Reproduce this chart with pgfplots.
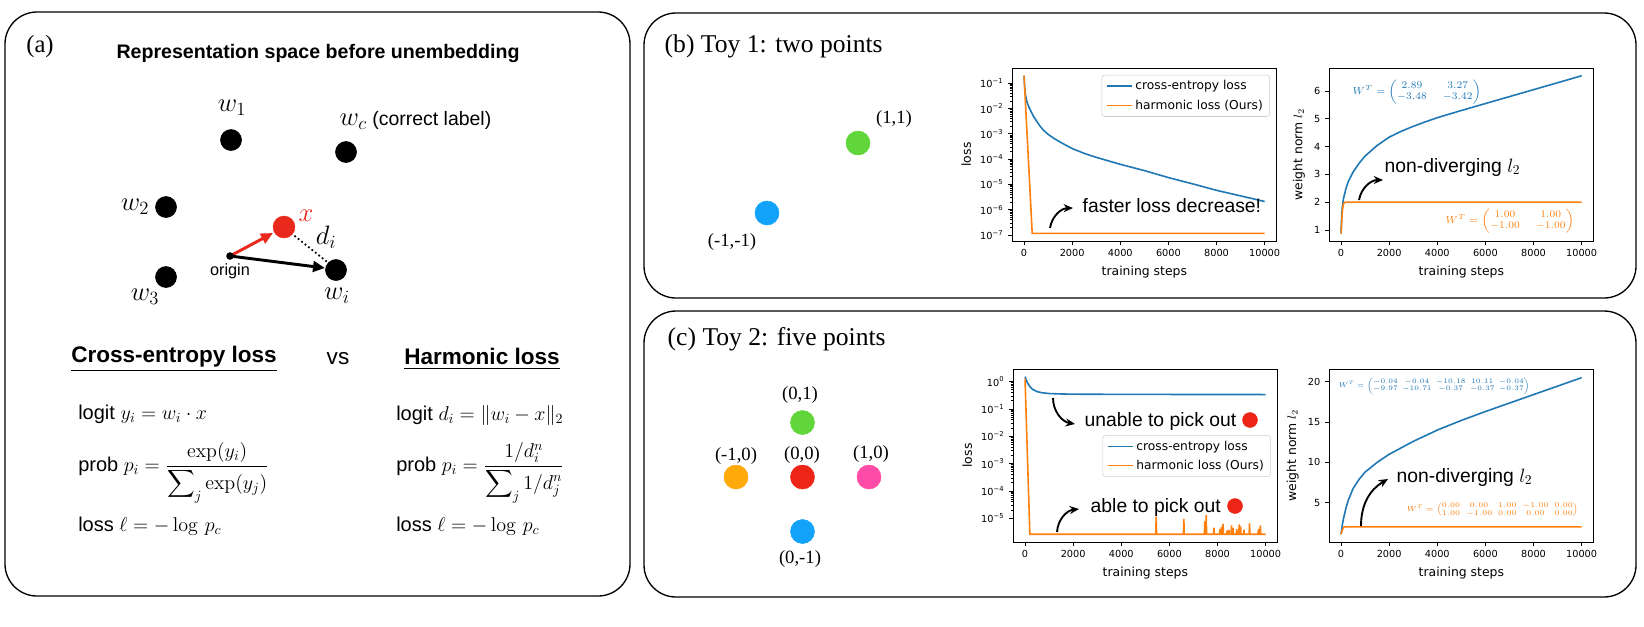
\RequirePackage{fix-cm}
\documentclass[border=0pt]{standalone}
\usepackage{amsmath}
\usepackage{pgfplots}
\pgfplotsset{compat=1.18}
\usepackage[no-math]{fontspec}
\setmainfont{Liberation Sans}
\newfontfamily\tnr{Liberation Serif}
\newfontfamily\dejavu{DejaVu Sans}
\usetikzlibrary{arrows.meta}
\newcommand\fs[1]{\fontsize{#1}{#1}\selectfont}
\definecolor{tabblue}{HTML}{1F77B4}
\definecolor{taborange}{HTML}{FF7F0E}
\definecolor{dgreen}{HTML}{61D63A}
\definecolor{dblue}{HTML}{12A2FA}
\definecolor{dorange}{HTML}{FFA90A}
\definecolor{dred}{HTML}{EC2516}
\definecolor{dpink}{HTML}{FF4CA8}
\definecolor{xred}{HTML}{E8291C}

\pgfplotsset{
  mpl/.style={
    scale only axis, width=198.5pt, height=129.75pt,
    xmin=-500, xmax=10500,
    xtick={0,2000,4000,6000,8000,10000},
    scaled x ticks=false, scaled y ticks=false,
    tick pos=left, tick align=outside,
    major tick length=3pt, minor tick length=1.7pt,
    every tick/.style={black, line width=0.5pt},
    axis line style={line width=0.6pt},
    /pgf/number format/1000 sep={},
    /pgf/number format/assume math mode=true,
    tick label style={font=\dejavu\fs{7.3}},
    label style={font=\dejavu\fs{9.3}},
    xlabel={training steps},
    legend cell align=left,
    legend image code/.code={\draw[##1] (0pt,0pt) -- (19pt,0pt);},
    legend style={font=\dejavu\fs{9.2}, draw=black!20, rounded corners=2pt, fill=white, inner xsep=3pt, inner ysep=2pt, row sep=2pt, anchor=north east},
  },
  bl/.style={tabblue, line width=1.2pt},
  ol/.style={taborange, line width=1.2pt},
}
\tikzset{anno/.style={-{Stealth[length=7pt,width=6pt]}, line width=1.4pt},
  fml/.style={anchor=west, font=\fs{15}, inner sep=0pt}}

\begin{document}
\begin{tikzpicture}[x=0.75pt,y=-0.75pt]
\useasboundingbox (0,0) rectangle (1644,626);
\draw[line width=1pt, rounded corners=24pt] (5,12) rectangle (630,596);
\draw[line width=1pt, rounded corners=24pt] (644,13) rectangle (1636,298);
\draw[line width=1pt, rounded corners=24pt] (644,311) rectangle (1636,597);
\coordinate (LB) at (1012,241);
\coordinate (WB) at (1329,241);
\coordinate (LC) at (1013,542);
\coordinate (WC) at (1329,542);
\coordinate (SB) at (721.5,248);
\coordinate (SC) at (702.75,558.75);

% ---------- (b) loss
\begin{axis}[mpl, at={(LB)}, anchor=south west, ymode=log, ymin=5.75e-8, ymax=0.398,
  ytick={1e-7,1e-6,1e-5,1e-4,1e-3,1e-2,1e-1},
  yticklabels={10\textsuperscript{−7},10\textsuperscript{−6},10\textsuperscript{−5},10\textsuperscript{−4},10\textsuperscript{−3},10\textsuperscript{−2},10\textsuperscript{−1}},
  ylabel={loss},
  legend style={at={(0.974,0.96)}}]
\addplot[bl] coordinates {(0,0.2)(25,0.07)(50,0.04)(100,0.022)(150,0.015)(200,0.0115)(250,0.0092)(300,0.0072)(400,0.0048)(500,0.0034)(650,0.0021)(800,0.0014)(1000,0.00095)(1250,0.00065)(1500,0.00047)(2000,0.00026)(2500,0.000168)(3000,0.000117)(3500,0.000085)(4000,0.000062)(5000,0.000035)(6000,0.0000185)(7000,0.0000105)(8000,0.0000058)(9000,0.0000035)(10000,0.0000021)};
\addlegendentry{cross-entropy loss}
\addplot[ol] coordinates {(0,0.2)(340,1.15e-7)(10000,1.15e-7)};
\addlegendentry{harmonic loss (Ours)}
\end{axis}

% ---------- (b) weight
\begin{axis}[mpl, at={(WB)}, anchor=south west, ymin=0.6, ymax=6.83,
  ytick={1,2,3,4,5,6}, ylabel={weight norm $l_2$}]
\addplot[bl] coordinates {(0,0.87)(20,1.35)(50,1.8)(100,2.12)(200,2.48)(300,2.74)(500,3.08)(750,3.4)(1000,3.66)(1500,4.04)(2000,4.34)(2500,4.55)(3000,4.73)(3500,4.89)(4000,5.04)(5000,5.3)(6000,5.55)(7000,5.8)(8000,6.05)(9000,6.3)(10000,6.55)};
\addplot[ol] coordinates {(0,0.87)(30,1.35)(60,1.72)(100,1.93)(150,1.99)(200,2.0)(10000,2.0)};
\end{axis}

% ---------- (c) loss
\begin{axis}[mpl, at={(LC)}, anchor=south west, ymode=log, ymin=1.35e-6, ymax=2.88,
  ytick={1e-5,1e-4,1e-3,1e-2,1e-1,1},
  yticklabels={10\textsuperscript{−5},10\textsuperscript{−4},10\textsuperscript{−3},10\textsuperscript{−2},10\textsuperscript{−1},10\textsuperscript{0}},
  ylabel={loss},
  legend style={at={(0.974,0.618)}}]
\addplot[bl] coordinates {(0,1.5)(50,1.15)(100,0.9)(200,0.66)(300,0.53)(500,0.43)(700,0.39)(1000,0.365)(1500,0.352)(2000,0.346)(4000,0.34)(7000,0.337)(10000,0.335)};
\addlegendentry{cross-entropy loss}
\addplot[ol] coordinates {(0,1.25)(200,2.6e-6)(5435,2.6e-6)(5450,1.15e-5)(5465,2.6e-6)(6585,2.6e-6)(6600,9.5e-6)(6615,2.6e-6)(7455,2.6e-6)(7470,7.6e-6)(7490,2.6e-6)(7515,2.6e-6)(7530,1.3e-5)(7545,2.6e-6)(7835,2.6e-6)(7850,4.5e-6)(7865,2.6e-6)(8085,2.6e-6)(8100,4.0e-6)(8115,2.6e-6)(8145,2.6e-6)(8160,4.8e-6)(8175,2.6e-6)(8215,2.6e-6)(8230,6.2e-6)(8245,2.6e-6)(8385,2.6e-6)(8400,3.6e-6)(8415,2.6e-6)(8455,2.6e-6)(8470,3.8e-6)(8485,2.6e-6)(8565,2.6e-6)(8580,5.5e-6)(8595,2.6e-6)(8635,2.6e-6)(8650,4.4e-6)(8665,2.6e-6)(8785,2.6e-6)(8800,4.0e-6)(8815,2.6e-6)(8885,2.6e-6)(8900,6.0e-6)(8915,2.6e-6)(8945,2.6e-6)(8960,5.0e-6)(8975,2.6e-6)(9085,2.6e-6)(9100,3.8e-6)(9115,2.6e-6)(9315,2.6e-6)(9330,6.5e-6)(9345,2.6e-6)(9685,2.6e-6)(9700,4.0e-6)(9715,2.6e-6)(9765,2.6e-6)(9780,5.5e-6)(9795,2.6e-6)(10000,2.6e-6)};
\addlegendentry{harmonic loss (Ours)}
\end{axis}

% ---------- (c) weight
\begin{axis}[mpl, at={(WC)}, anchor=south west, ymin=0.13, ymax=21.57,
  ytick={5,10,15,20}, ylabel={weight norm $l_2$}]
\addplot[bl] coordinates {(0,1.1)(50,2.2)(100,3.0)(200,4.3)(300,5.3)(500,6.75)(750,7.9)(1000,8.8)(1500,10.0)(2000,11.0)(3000,12.6)(4000,14.0)(5000,15.2)(6000,16.3)(7000,17.35)(8000,18.4)(9000,19.45)(10000,20.5)};
\addplot[ol] coordinates {(0,1.1)(50,1.6)(100,1.95)(150,2.0)(10000,2.0)};
\end{axis}

% ---------- scatter (b)
\begin{axis}[at={(SB)}, anchor=south west, scale only axis, width=136.5pt, height=105pt,
  xmin=-2, xmax=2, ymin=-2, ymax=2, hide axis, clip=false]
\addplot[only marks, mark=*, mark size=9pt, dblue, mark options={draw=none}] coordinates {(-1,-1)};
\addplot[only marks, mark=*, mark size=9pt, dgreen, mark options={draw=none}] coordinates {(1,1)};
\end{axis}

% ---------- scatter (c)
\begin{axis}[at={(SC)}, anchor=south west, scale only axis, width=149.6pt, height=122.6pt,
  xmin=-1.5, xmax=1.5, ymin=-1.5, ymax=1.5, hide axis, clip=false]
\addplot[only marks, mark=*, mark size=9pt, dgreen, mark options={draw=none}] coordinates {(0,1)};
\addplot[only marks, mark=*, mark size=9pt, dorange, mark options={draw=none}] coordinates {(-1,0)};
\addplot[only marks, mark=*, mark size=9pt, dred, mark options={draw=none}] coordinates {(0,0)};
\addplot[only marks, mark=*, mark size=9pt, dpink, mark options={draw=none}] coordinates {(1,0)};
\addplot[only marks, mark=*, mark size=9pt, dblue, mark options={draw=none}] coordinates {(0,-1)};
\end{axis}

% ---------- panel (a) texts
\node[font=\tnr\fs{18.5}] at (40,47) {(a)};
\node[font=\bfseries\fs{14.7}] at (318,53) {Representation space before unembedding};
\node[font=\fs{20}] at (232,108) {$w_1$};
\node[anchor=west, font=\fs{14.6}] at (335,120) {\fs{20}$w_c$\fs{14.6} (correct label)};
\node[font=\fs{20}] at (135,207) {$w_2$};
\node[font=\fs{20}] at (145,297) {$w_3$};
\node[font=\fs{20}] at (337,296) {$w_i$};
\node[font=\fs{20}, text=xred] at (306,216) {$x$};
\node[font=\fs{20}] at (326,237) {$d_i$};
\node[font=\fs{12.2}] at (230,271) {origin};
\draw[xred, line width=2.2pt, -{Triangle[length=9pt,width=8pt]}] (230,256) -- (273,233);
\draw[black, line width=2.2pt, -{Triangle[length=9pt,width=8pt]}] (230,256) -- (325,268);
\draw[black, line width=1.3pt, dotted] (291,233) -- (331,265);
\node[font=\bfseries\fs{16.9}] at (174,359) {\underline{Cross-entropy loss}};
\node[font=\fs{16.9}] at (338,359) {vs};
\node[font=\bfseries\fs{16.9}] at (482,359) {\underline{Harmonic loss}};
\node[fml] at (78,414) {logit $y_i = w_i \cdot x$};
\node[fml] at (78,473) {prob $p_i = \dfrac{\exp(y_i)}{\displaystyle\sum\nolimits_j \exp(y_j)}$};
\node[fml] at (78,526) {loss $\ell = -\log\, p_c$};
\node[fml] at (396,415) {logit $d_i = \|w_i - x\|_2$};
\node[fml] at (396,473) {prob $p_i = \dfrac{1/d_i^n}{\displaystyle\sum\nolimits_j 1/d_j^n}$};
\node[fml] at (396,526) {loss $\ell = -\log\, p_c$};

% ---------- panel (b)/(c) texts
\node[anchor=west, font=\tnr\fs{19.2}] at (660,46) {(b) Toy 1: two points};
\node[font=\tnr\fs{14}] at (894,119) {(1,1)};
\node[font=\tnr\fs{14}] at (732,242) {(-1,-1)};
\node[anchor=west, font=\tnr\fs{19.2}] at (663,339) {(c) Toy 2: five points};
\node[font=\tnr\fs{14}] at (800,395) {(0,1)};
\node[font=\tnr\fs{14}] at (736,456) {(-1,0)};
\node[font=\tnr\fs{14}] at (802,455) {(0,0)};
\node[font=\tnr\fs{14}] at (871,454) {(1,0)};
\node[font=\tnr\fs{14}] at (800,559) {(0,-1)};

\node[anchor=west, font=\fs{14.5}] at (1078,206) {faster loss decrease!};
\node[anchor=west, font=\fs{14.5}] at (1380,167) {non-diverging $l_2$};
\node[anchor=west, font=\fs{14.5}] at (1080,421) {unable to pick out};
\node[anchor=west, font=\fs{14.5}] at (1086,507) {able to pick out};
\node[anchor=west, font=\fs{14.5}] at (1392,477) {non-diverging $l_2$};
\draw[anno] (1050,228) to[bend left=40] (1073,208);
\draw[anno] (1053,398) to[bend right=40] (1075,424);
\draw[anno] (1057,532) to[bend left=40] (1079,509);
\draw[anno] (1359,200) to[bend left=40] (1383,180);
\draw[anno] (1361,526) to[bend left=30] (1388,479);

\node[anchor=west, text=tabblue, font=\tnr\fs{7.6}] at (1348,92) {\arraycolsep=6pt $W^T = \begin{pmatrix}2.89 & 3.27\\ -3.48 & -3.42\end{pmatrix}$};
\node[anchor=west, text=taborange, font=\tnr\fs{7.6}] at (1441,221) {\arraycolsep=6pt $W^T = \begin{pmatrix}1.00 & 1.00\\ -1.00 & -1.00\end{pmatrix}$};
\node[anchor=west, text=tabblue, font=\tnr\fs{5.2}] at (1334,386) {\arraycolsep=1.6pt $W^T = \begin{pmatrix}-0.04 & -0.04 & -10.18 & 10.11 & -0.04\\ -9.97 & -10.71 & -0.37 & -0.37 & -0.37\end{pmatrix}$};
\node[anchor=west, text=taborange, font=\tnr\fs{5.5}] at (1402,510) {\arraycolsep=2.2pt $W^T = \begin{pmatrix}0.00 & 0.00 & 1.00 & -1.00 & 0.00\\ 1.00 & -1.00 & 0.00 & 0.00 & 0.00\end{pmatrix}$};

% ---------- dots (canvas axis in pixel units)
\begin{axis}[at={(0,0)}, anchor=north west, scale only axis, width=1233pt, height=469.5pt,
  xmin=0, xmax=1644, ymin=0, ymax=626, y dir=reverse, hide axis, clip=false]
\addplot[only marks, mark=*, mark size=7.9pt, black] coordinates {(231,140)(346,152)(166,207)(166,277)(336,270)};
\addplot[only marks, mark=*, mark size=8.2pt, xred, mark options={draw=none}] coordinates {(284,227)};
\addplot[only marks, mark=*, mark size=2.6pt, black] coordinates {(230,256)};
\addplot[only marks, mark=*, mark size=5.6pt, dred, mark options={draw=none}] coordinates {(1250,420)(1235,506)};
\end{axis}
\end{tikzpicture}
\end{document}
